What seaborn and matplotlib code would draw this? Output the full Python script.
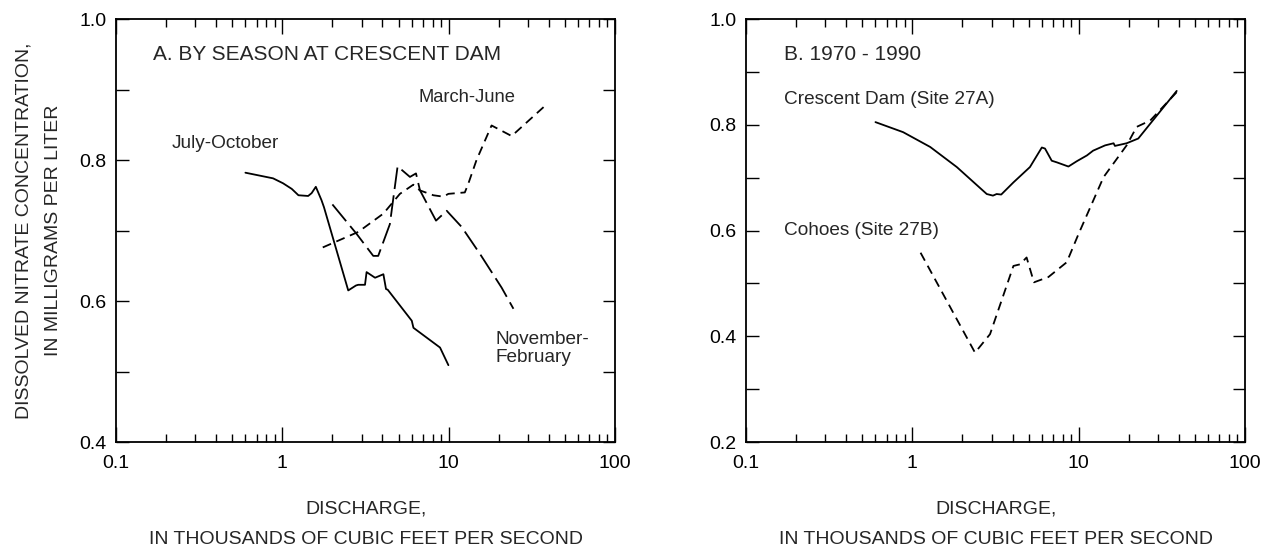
import numpy as np
import matplotlib
matplotlib.use('Agg')
import matplotlib.pyplot as plt
import matplotlib.ticker as mticker
import seaborn as sns

# Panel A - seasonal curves at Crescent Dam (discharge in 1000 cfs, nitrate mg/L)
jul_oct_q = [0.60, 0.88, 1.01, 1.14, 1.25, 1.43, 1.50, 1.59, 1.72, 1.78, 2.49, 2.77, 2.86,
             3.14, 3.21, 3.61, 4.05, 4.20, 4.30, 6.00, 6.14, 8.87, 9.96]
jul_oct_c = [0.782, 0.774, 0.767, 0.759, 0.750, 0.749, 0.753, 0.762, 0.743, 0.733, 0.615, 0.622, 0.623,
             0.623, 0.641, 0.633, 0.638, 0.617, 0.616, 0.572, 0.562, 0.534, 0.509]

nov_feb_q = [2.00, 2.80, 3.52, 3.77, 4.43, 4.93, 5.85, 6.36, 6.72, 8.39, 9.73, 11.97, 15.4, 20.8, 24.5]
nov_feb_c = [0.737, 0.695, 0.664, 0.664, 0.709, 0.791, 0.776, 0.781, 0.757, 0.714, 0.728, 0.705, 0.667, 0.619, 0.589]

mar_jun_q = [1.75, 2.86, 4.05, 5.09, 6.13, 6.70, 8.09, 9.29, 9.96, 12.5, 13.1, 14.7, 18.1, 23.9, 38.8]
mar_jun_c = [0.676, 0.698, 0.724, 0.752, 0.765, 0.757, 0.750, 0.748, 0.752, 0.754, 0.766, 0.800, 0.849, 0.834, 0.879]

# Panel B - 1970-1990
crescent_q = [0.60, 0.88, 1.28, 1.85, 2.80, 3.05, 3.21, 3.42, 4.05, 5.09, 6.00, 6.27, 6.88, 7.37,
              8.67, 9.73, 11.2, 12.2, 14.4, 16.2, 16.5, 19.4, 22.8, 38.8]
crescent_c = [0.805, 0.786, 0.758, 0.720, 0.669, 0.666, 0.669, 0.668, 0.691, 0.720, 0.757, 0.755, 0.732, 0.729,
              0.721, 0.731, 0.742, 0.751, 0.761, 0.765, 0.760, 0.765, 0.774, 0.864]

cohoes_q = [1.12, 2.38, 2.93, 4.05, 4.43, 4.86, 5.38, 6.57, 8.47, 9.96, 14.1, 19.4, 22.3, 26.9, 39.7]
cohoes_c = [0.558, 0.369, 0.404, 0.533, 0.536, 0.549, 0.502, 0.512, 0.540, 0.593, 0.701, 0.761, 0.796, 0.808, 0.865]

x_ticks = [0.1, 1, 10, 100]
x_tick_labels = ['0.1', '1', '10', '100']

sns.set_style('ticks')
plt.rcParams['font.family'] = ['Liberation Sans', 'DejaVu Sans']

fig = plt.figure(figsize=(12.7, 5.51), dpi=100)
axA = fig.add_axes([0.0913, 0.1978, 0.3930, 0.7677])
axB = fig.add_axes([0.5874, 0.1978, 0.3930, 0.7677])

lw = 1.3
short_dash = (0, (5, 3.2))
long_dash = (0, (12, 3.5))

sns.lineplot(x=jul_oct_q, y=jul_oct_c, ax=axA, color='black', lw=lw, estimator=None, sort=False)
sns.lineplot(x=nov_feb_q, y=nov_feb_c, ax=axA, color='black', lw=lw, estimator=None, sort=False,
             linestyle=long_dash)
sns.lineplot(x=mar_jun_q, y=mar_jun_c, ax=axA, color='black', lw=lw, estimator=None, sort=False,
             linestyle=short_dash)

sns.lineplot(x=crescent_q, y=crescent_c, ax=axB, color='black', lw=lw, estimator=None, sort=False)
sns.lineplot(x=cohoes_q, y=cohoes_c, ax=axB, color='black', lw=lw, estimator=None, sort=False,
             linestyle=short_dash)

for ax, ylo in [(axA, 0.4), (axB, 0.2)]:
    ax.set_xscale('log')
    ax.set_xlim(0.1, 100)
    ax.set_ylim(ylo, 1.0)
    ax.set_xticks(x_ticks)
    ax.set_xticklabels(x_tick_labels)
    ax.xaxis.set_minor_locator(mticker.LogLocator(base=10, subs=np.arange(2, 10)))
    ax.xaxis.set_minor_formatter(mticker.NullFormatter())
    ax.yaxis.set_major_locator(mticker.MultipleLocator(0.2))
    ax.yaxis.set_minor_locator(mticker.MultipleLocator(0.1))
    ax.yaxis.set_major_formatter(mticker.FormatStrFormatter('%.1f'))
    ax.tick_params(axis='both', which='both', direction='in', top=True, right=True,
                   width=1.0, colors='black', labelsize=14)
    ax.tick_params(axis='x', which='major', length=11, pad=9)
    ax.tick_params(axis='x', which='minor', length=6)
    ax.tick_params(axis='y', which='both', length=9, pad=7)
    for s in ax.spines.values():
        s.set_linewidth(1.3)
        s.set_color('black')
    ax.set_xlabel('DISCHARGE,\nIN THOUSANDS OF CUBIC FEET PER SECOND', fontsize=14,
                  linespacing=2.05, labelpad=21)
    ax.set_ylabel('')

axA.set_ylabel('DISSOLVED NITRATE CONCENTRATION,\nIN MILLIGRAMS PER LITER', fontsize=14,
               linespacing=2.0, labelpad=12)

fs = 13.7
axA.text(0.074, 0.915, 'A. BY SEASON AT CRESCENT DAM', transform=axA.transAxes, fontsize=15, va='center')
axA.text(0.217, 0.823, 'July-October', fontsize=fs, va='center')
axA.text(6.55, 0.889, 'March-June', fontsize=13.2, va='center')
axA.text(19.0, 0.533, 'November-\nFebruary', fontsize=fs, va='center', linespacing=1.1)

axB.text(0.076, 0.915, 'B. 1970 - 1990', transform=axB.transAxes, fontsize=15, va='center')
axB.text(0.076, 0.809, 'Crescent Dam (Site 27A)', transform=axB.transAxes, fontsize=fs, va='center')
axB.text(0.076, 0.501, 'Cohoes (Site 27B)', transform=axB.transAxes, fontsize=fs, va='center')

plt.savefig('out.png', dpi=100)
